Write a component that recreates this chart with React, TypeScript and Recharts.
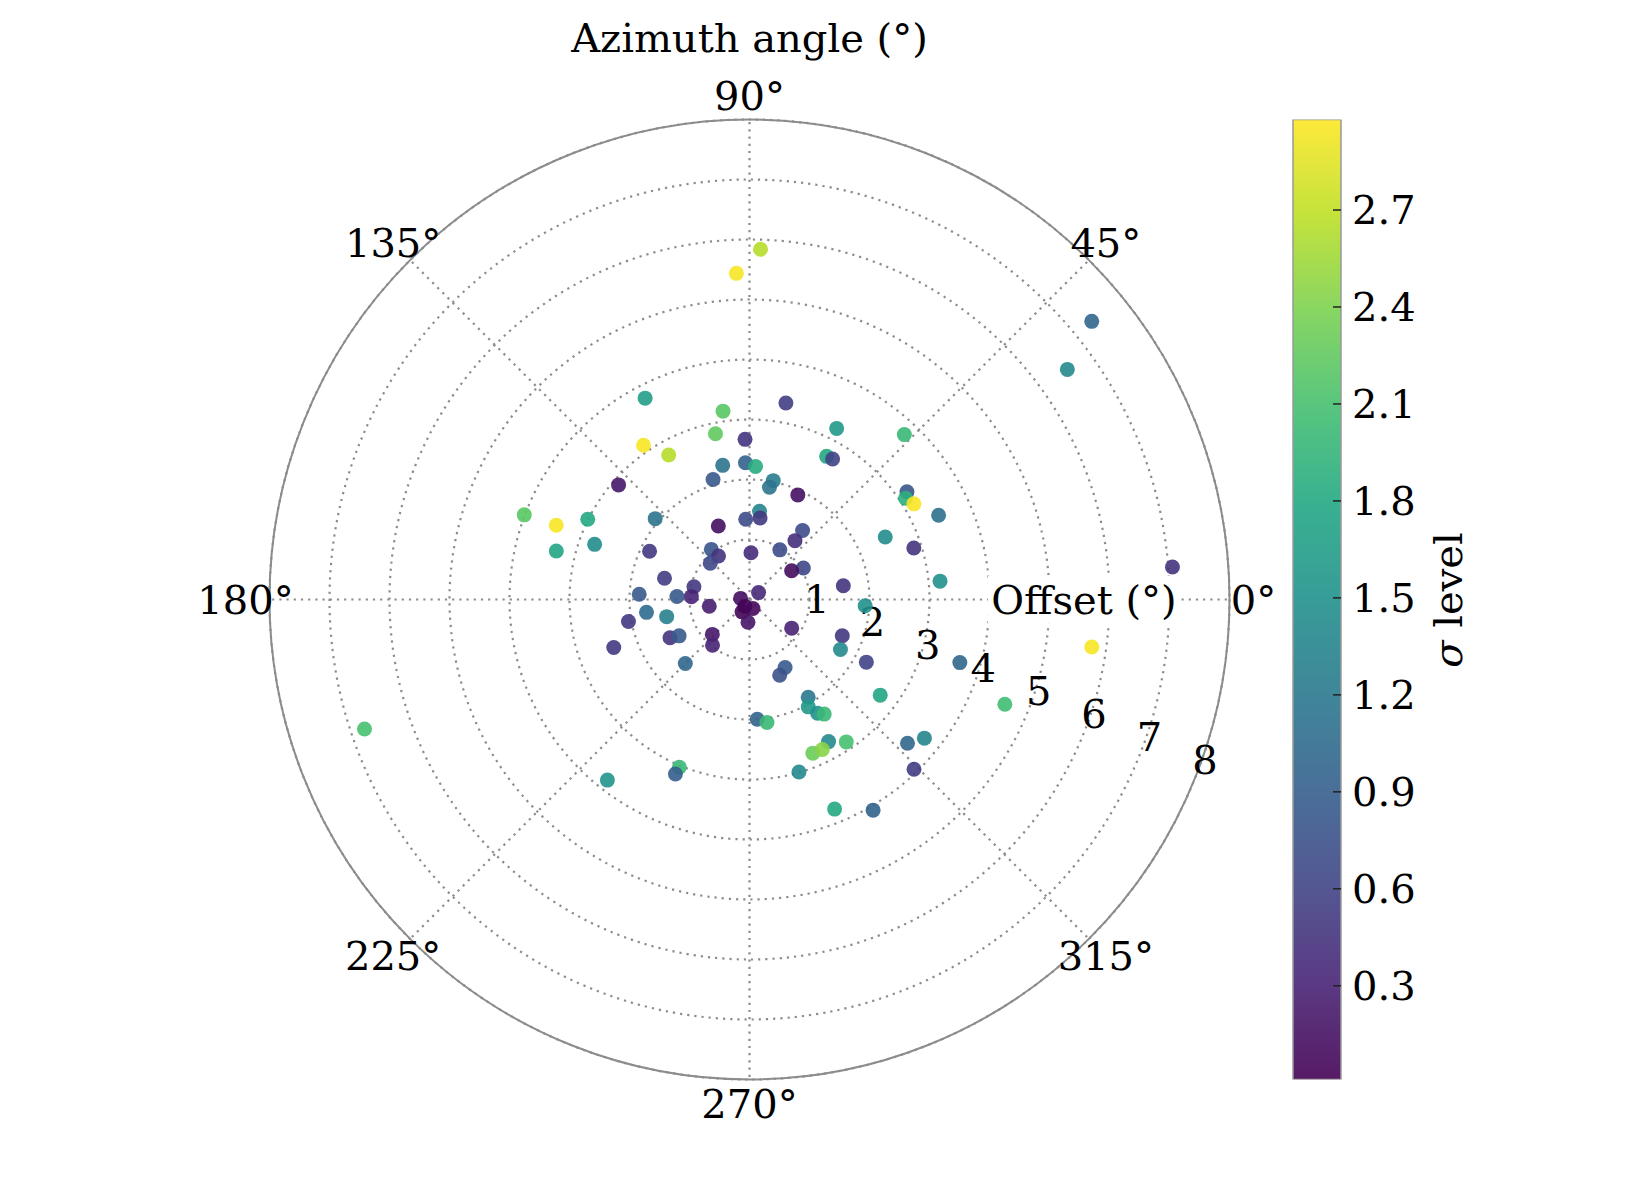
import React from 'react';
import {
  RadarChart, PolarGrid, PolarAngleAxis, PolarRadiusAxis, Radar,
  ScatterChart, Scatter, XAxis, YAxis, ReferenceDot,
  BarChart, Bar,
} from 'recharts';

// ---------------- data ----------------
const azimuthDeg = [
  117.4, 98.0, 101.6, 91.6, 124.5, 119.2, 101.3, 91.7, 87.4, 106.9,
  138.8, 159.4, 159.0, 153.6, 165.9, 160.4, 139.4, 113.0, 92.7, 83.5,
  82.6, 154.2, 127.3, 125.5, 137.3, 88.2, 166.0, 167.1, 177.2, 177.3,
  177.6, 189.6, 172.9, 37.4, 237.3, 291.1, 239.0, 266.2, 187.1, 191.7,
  190.3, 199.5, 205.7, 207.3, 223.2, 231.0, 224.9, 273.7, 247.3, 247.0,
  231.8, 79.5, 63.0, 46.8, 61.7, 59.4, 78.7, 79.9, 65.2, 34.4,
  33.0, 30.2, 24.0, 24.7, 17.4, 52.4, 52.3, 58.6, 30.3, 34.3,
  5.5, 8.3, 356.9, 325.8, 338.7, 331.2, 331.8, 343.3, 297.6, 291.7,
  323.8, 337.7, 301.0, 298.7, 300.9, 303.1, 278.1, 299.1, 304.2, 292.4,
  295.9, 317.7, 321.6, 314.1, 286.0, 292.1, 300.4, 88.2, 92.3, 39.1,
  35.9, 4.4, 352.1, 198.6,
];

const offsetDeg = [
  3.78, 3.17, 2.82, 2.67, 3.12, 2.76, 2.28, 2.28, 2.22, 2.09,
  2.90, 4.01, 3.45, 3.01, 3.32, 2.74, 2.07, 1.33, 1.34, 1.48,
  1.37, 1.85, 1.05, 0.89, 0.89, 0.78, 1.46, 0.95, 0.97, 1.84,
  1.21, 0.68, 0.15, 0.19, 0.14, 0.16, 0.24, 0.38, 1.73, 1.41,
  2.05, 2.40, 1.47, 1.32, 0.85, 0.98, 1.51, 2.00, 3.03, 3.16,
  3.83, 3.33, 3.20, 3.77, 2.71, 2.72, 2.02, 1.90, 1.92, 3.18,
  3.10, 3.17, 3.45, 2.49, 2.87, 1.45, 1.24, 0.97, 1.04, 0.85,
  3.19, 1.58, 1.93, 0.85, 1.66, 1.73, 2.21, 3.66, 1.28, 1.36,
  2.70, 4.60, 1.90, 2.04, 2.21, 2.28, 2.07, 2.71, 2.87, 2.77,
  2.78, 3.56, 3.72, 3.94, 2.99, 3.77, 4.07, 5.84, 5.44, 7.35,
  6.54, 7.07, 5.76, 6.77,
];

const sigmaLevel = [
  1.65, 2.2, 2.25, 0.45, 2.95, 2.65, 1.15, 0.95, 1.85, 0.85,
  0.2, 2.2, 2.95, 1.8, 1.75, 1.45, 1.15, 0.12, 0.7, 1.35,
  0.5, 0.5, 0.8, 0.45, 0.65, 0.38, 0.55, 0.5, 0.3, 0.85,
  0.85, 0.25, 0.12, 0.35, 0.03, 0.08, 0.05, 0.18, 1.05, 1.3,
  0.5, 0.5, 0.45, 0.85, 0.2, 0.3, 1.0, 0.95, 2.0, 0.9,
  1.55, 0.55, 1.6, 2.0, 1.8, 0.6, 1.25, 1.15, 0.15, 0.8,
  1.9, 2.95, 1.1, 1.45, 0.45, 0.7, 0.4, 0.7, 0.65, 0.1,
  1.5, 0.45, 1.5, 0.3, 0.5, 1.4, 0.6, 1.0, 0.85, 0.75,
  1.75, 2.05, 1.2, 1.6, 1.5, 2.0, 2.0, 1.4, 2.1, 2.3,
  2.45, 1.0, 1.35, 0.55, 1.4, 1.8, 0.95, 2.65, 2.95, 1.0,
  1.4, 0.45, 2.95, 2.1,
];

const angleTickLabels = ['0°', '45°', '90°', '135°', '180°', '225°', '270°', '315°'];
const offsetDomain = [0, 8];
const colorbarTicks = [0.3, 0.6, 0.9, 1.2, 1.5, 1.8, 2.1, 2.4, 2.7];
const sigmaMin = 0.01;
const sigmaMax = 2.98;

// ---------------- styling / layout ----------------
const W = 1650;
const H = 1200;
const CX = 749.5;
const CY = 599.5;
const R = 480;
const FONT = "'DejaVu Serif', serif";
const FS = 40;
const GRID = '#8c8c8c';

const VIRIDIS = ['#440154', '#482475', '#414487', '#355f8d', '#2a788e', '#21918c',
  '#22a884', '#44bf70', '#7ad151', '#bddf26', '#fde725'];

function hexToRgb(h: string) {
  return [parseInt(h.slice(1, 3), 16), parseInt(h.slice(3, 5), 16), parseInt(h.slice(5, 7), 16)];
}
function viridis(v: number) {
  let t = (v - sigmaMin) / (sigmaMax - sigmaMin);
  t = Math.max(0, Math.min(1, t));
  const p = t * 10;
  const i = Math.min(9, Math.floor(p));
  const f = p - i;
  const a = hexToRgb(VIRIDIS[i]);
  const b = hexToRgb(VIRIDIS[i + 1]);
  const c = a.map((av, k) => Math.round(av + (b[k] - av) * f));
  return `rgb(${c[0]},${c[1]},${c[2]})`;
}

const angleData = angleTickLabels.map((label) => ({ label, v: 0 }));
const points = azimuthDeg.map((az, i) => {
  const rad = (az * Math.PI) / 180;
  return {
    x: offsetDeg[i] * Math.cos(rad),
    y: offsetDeg[i] * Math.sin(rad),
    sigma: sigmaLevel[i],
  };
});
const colorbarData = [{ name: 'cb', range: [sigmaMin, sigmaMax] }];

const AngleTick = (props: any) => {
  const { x, y, payload } = props;
  return (
    <text x={x} y={y} textAnchor="middle" dominantBaseline="central"
      fontSize={FS} fontFamily={FONT} fill="#000">{payload.value}</text>
  );
};

const RadiusTick = (props: any) => {
  const { x, y, payload } = props;
  if (payload.value === 0) return <g />;
  return (
    <text x={x + 12} y={y - 23.5} textAnchor="middle" dominantBaseline="central"
      fontSize={FS} fontFamily={FONT} fill="#000">{payload.value}</text>
  );
};

const ColorbarTick = (props: any) => {
  const { x, y, payload } = props;
  return (
    <g>
      <line x1={x - 8} y1={y} x2={x} y2={y} stroke="#222" strokeWidth={1.5} />
      <text x={x + 11} y={y} textAnchor="start" dominantBaseline="central"
        fontSize={FS} fontFamily={FONT} fill="#000">{payload.value.toFixed(1)}</text>
    </g>
  );
};

const renderPoint = (props: any) => {
  const { cx, cy, payload } = props;
  return <circle cx={cx} cy={cy} r={7.5} fill={viridis(payload.sigma)} fillOpacity={0.9} />;
};

const renderOffsetLabel = (props: any) => {
  const { cx, cy } = props;
  return (
    <g>
      <rect x={cx - 96} y={cy - 24} width={192} height={48} fill="#fff" />
      <text x={cx} y={cy} textAnchor="middle" dominantBaseline="central"
        fontSize={FS} fontFamily={FONT} fill="#000">Offset (°)</text>
    </g>
  );
};

const abs: React.CSSProperties = { position: 'absolute', left: 0, top: 0 };

export default function App() {
  return (
    <div style={{ position: 'absolute', left: 0, top: 0, width: W, height: H, background: '#fff' }}>
      <div style={abs}>
        <RadarChart width={W} height={H} cx={CX} cy={CY} outerRadius={R} innerRadius={0}
          startAngle={45} endAngle={405} data={angleData}
          margin={{ top: 0, right: 0, bottom: 0, left: 0 }}>
          <PolarGrid gridType="circle" stroke={GRID} strokeWidth={2.2} strokeDasharray="2.2 5" />
          <PolarGrid gridType="circle" radialLines={false} polarRadius={[R]} stroke={GRID} strokeWidth={2} />
          <PolarAngleAxis dataKey="label" tickLine={false} axisLine={false} tickSize={24} tick={AngleTick} />
          <PolarRadiusAxis angle={-22.5} type="number" domain={offsetDomain} tickCount={9}
            axisLine={false} tickLine={false} tick={RadiusTick} />
          <Radar dataKey="v" stroke="none" fill="none" dot={false} isAnimationActive={false} />
        </RadarChart>
      </div>
      <div style={abs}>
        <ScatterChart width={W} height={H}
          margin={{ top: CY - R, bottom: H - (CY + R), left: CX - R, right: W - (CX + R) }}>
          <XAxis type="number" dataKey="x" domain={[-offsetDomain[1], offsetDomain[1]]} hide allowDataOverflow />
          <YAxis type="number" dataKey="y" domain={[-offsetDomain[1], offsetDomain[1]]} hide allowDataOverflow />
          <ReferenceDot x={5.575} y={0} r={0} shape={renderOffsetLabel} ifOverflow="visible" />
          <Scatter data={points} shape={renderPoint} isAnimationActive={false} />
        </ScatterChart>
      </div>
      <div style={abs}>
        <BarChart width={W} height={H} data={colorbarData} barCategoryGap={0}
          margin={{ top: 119.5, bottom: 120.5, left: 1293, right: 209 }}>
          <defs>
            <linearGradient id="viridisGrad" x1="0" y1="1" x2="0" y2="0">
              {VIRIDIS.map((c, i) => (
                <stop key={i} offset={`${i * 10}%`} stopColor={c} stopOpacity={0.9} />
              ))}
            </linearGradient>
          </defs>
          <XAxis dataKey="name" hide />
          <YAxis orientation="right" type="number" domain={[sigmaMin, sigmaMax]} ticks={colorbarTicks}
            axisLine={false} tickLine={false} tickSize={0} tickMargin={0} width={100}
            tick={ColorbarTick} allowDataOverflow interval={0} />
          <Bar dataKey="range" fill="url(#viridisGrad)" stroke="#999" strokeWidth={1.5} isAnimationActive={false} />
        </BarChart>
      </div>
      <svg style={{ ...abs, pointerEvents: 'none' }} width={W} height={H}>
        <text x={CX} y={52} textAnchor="middle" fontSize={FS} fontFamily={FONT} fill="#000">Azimuth angle (°)</text>
        <text x={1448} y={600} textAnchor="middle" dominantBaseline="central" fontSize={FS}
          fontFamily={FONT} fill="#000" transform="rotate(-90, 1448, 600)">
          <tspan fontStyle="italic">σ</tspan> level
        </text>
      </svg>
    </div>
  );
}
